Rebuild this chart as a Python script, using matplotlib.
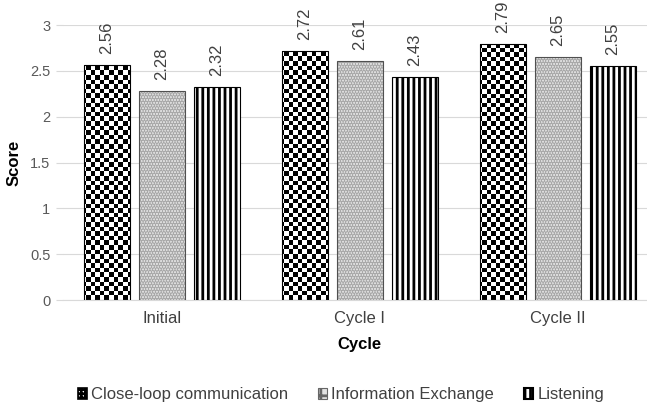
import numpy as np
import matplotlib
matplotlib.use('Agg')
import matplotlib.pyplot as plt
from matplotlib.patches import Patch

# Datos
cycles = ['Initial', 'Cycle I', 'Cycle II']
series = ['Close-loop communication', 'Information Exchange', 'Listening']
close_loop = [2.56, 2.72, 2.79]
info_exchange = [2.28, 2.61, 2.65]
listening = [2.32, 2.43, 2.55]

plt.rcParams['font.family'] = ['Liberation Sans', 'DejaVu Sans']
plt.rcParams['hatch.linewidth'] = 2.0

fig = plt.figure(figsize=(6.47, 4.05), dpi=100)
ax = fig.add_axes([0.097, 0.259, 0.918, 0.679])

x = np.arange(len(cycles))
w = 0.232
step = 0.278

# tablero de ajedrez para la primera serie (imagen recortada a cada barra)
ny, nx = 60, 129
checker = np.indices((ny, nx)).sum(axis=0) % 2

bars1 = ax.bar(x - step, close_loop, w, facecolor='none', edgecolor='black',
               linewidth=0.8, zorder=3)
for b in bars1:
    im = ax.imshow(checker, cmap='gray', extent=(0, 1, 0, 1), transform=ax.transAxes,
                   aspect='auto', interpolation='nearest', zorder=2)
    im.set_clip_path(b)

bars2 = ax.bar(x, info_exchange, w, facecolor='#e6e6e6', edgecolor='#505050',
               hatch='......', linewidth=0.8, zorder=3)
for b in bars2:
    b._hatch_color = matplotlib.colors.to_rgba('#a8a8a8')

bars3 = ax.bar(x + step, listening, w, facecolor='white', edgecolor='black',
               hatch='|||', linewidth=0.8, zorder=3)

for bars, vals in [(bars1, close_loop), (bars2, info_exchange), (bars3, listening)]:
    for b, v in zip(bars, vals):
        ax.annotate(f'{v:.2f}', (b.get_x() + b.get_width() / 2, v),
                    xytext=(0, 8), textcoords='offset points', rotation=90,
                    ha='center', va='bottom', fontsize=12, color='#404040')

ax.set_xlim(-0.5, 2.5)
ax.set_ylim(0, 3)
ax.set_yticks([0, 0.5, 1, 1.5, 2, 2.5, 3])
ax.set_yticklabels(['0', '0.5', '1', '1.5', '2', '2.5', '3'])
ax.set_xticks(x)
ax.set_xticklabels(cycles)
ax.grid(axis='y', color='#d9d9d9', linewidth=0.8, zorder=0)
ax.set_axisbelow(True)
for s in ['top', 'right', 'left']:
    ax.spines[s].set_visible(False)
ax.spines['bottom'].set_color('#d9d9d9')
ax.tick_params(axis='y', length=5, color='#d9d9d9', labelcolor='#595959',
               labelsize=10.5, pad=4)
ax.tick_params(axis='x', length=0, labelcolor='#404040', labelsize=12, pad=8)

ax.set_ylabel('Score', fontsize=12, fontweight='bold', color='black', labelpad=6)
ax.set_xlabel('Cycle', fontsize=12, fontweight='bold', color='black', labelpad=8)

handles = [Patch(facecolor='white', edgecolor='black', hatch='++++', linewidth=1.2),
           Patch(facecolor='#e2e2e2', edgecolor='#666666', hatch='++', linewidth=0.8),
           Patch(facecolor='white', edgecolor='black', hatch='|||', linewidth=1.5)]
fig.legend(handles, series, loc='center', bbox_to_anchor=(0.527, 0.025), ncol=3,
           frameon=False, fontsize=12, handlelength=0.55, handleheight=0.55,
           handletextpad=0.25, columnspacing=1.8, labelcolor='#404040')

plt.savefig('out.png', dpi=100)
